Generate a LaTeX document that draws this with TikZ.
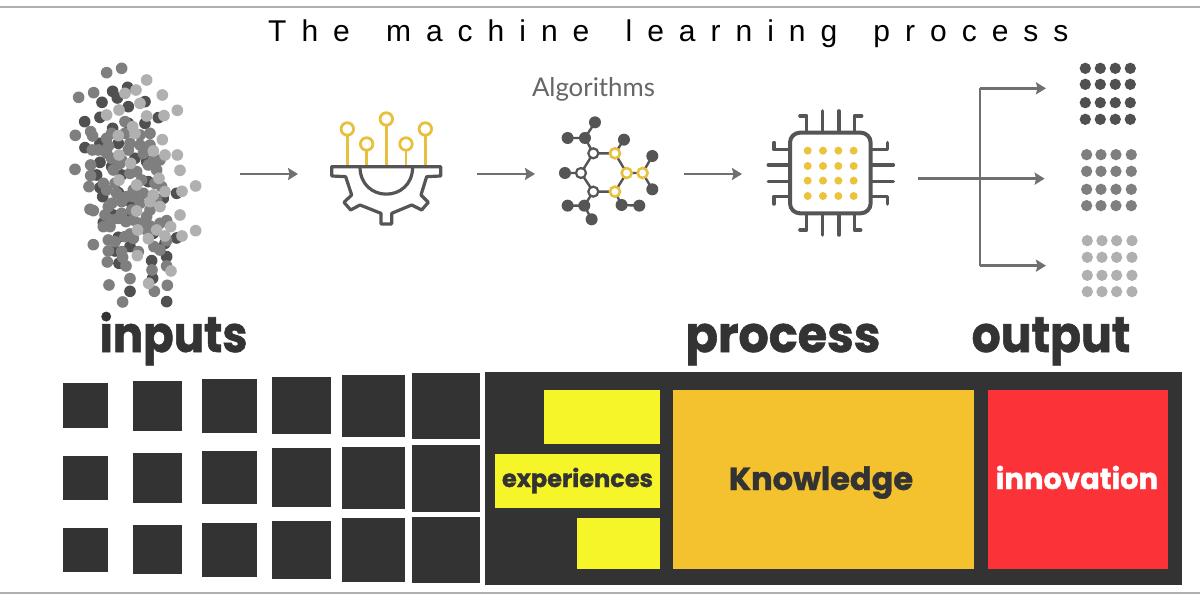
\documentclass[tikz,border=0pt]{standalone}
\usepackage{fontspec}
\usepackage{graphicx}
\usetikzlibrary{arrows.meta}
\setmainfont{Liberation Sans}
\newfontfamily\titlefont[LetterSpace=50,WordSpace=1.55]{Liberation Sans}
\newfontfamily\algofont{Lato}
\newfontfamily\heavyfont[BoldFeatures={FakeBold=1.2}]{Poppins}
\definecolor{ink}{HTML}{333333}
\definecolor{icon}{HTML}{555555}
\definecolor{arrowgrey}{HTML}{707070}
\definecolor{gold}{HTML}{E8C040}
\definecolor{dotgold}{HTML}{EDC33A}
\definecolor{dotdark}{HTML}{505050}
\definecolor{dotmid}{HTML}{7F7F7F}
\definecolor{dotlight}{HTML}{B0B0B0}
\definecolor{yellowbox}{HTML}{F5F52A}
\definecolor{orangebox}{HTML}{F4C22F}
\definecolor{redbox}{HTML}{FB3237}
\tikzset{
  flowarrow/.style={draw=arrowgrey,line width=2.5pt,-{Stealth[length=10pt,width=12pt,inset=1.5pt]}},
  trunk/.style={draw=arrowgrey,line width=2.5pt},
  iconline/.style={draw=icon,line width=3.2pt,line join=round},
  pin/.style={draw=icon,line width=3.6pt,line cap=round,line join=round},
  stem/.style={draw=gold,line width=2.8pt},
  ringgold/.style={circle,draw=gold,fill=white,line width=2.8pt,inner sep=0pt,minimum size=12.5pt},
  netdark/.style={circle,fill=icon,inner sep=0pt,minimum size=12pt},
  netopen/.style={circle,draw=icon,fill=white,line width=2.2pt,inner sep=0pt,minimum size=10pt},
  netgold/.style={circle,draw=gold,fill=white,line width=2.6pt,inner sep=0pt,minimum size=10pt},
  netedge/.style={draw=icon,line width=2.4pt},
  biglabel/.style={inner sep=0pt,anchor=base,text=ink,font=\heavyfont\bfseries\fontsize{50}{50}\selectfont},
  boxlabel/.style={inner sep=0pt,anchor=base,font=\heavyfont\bfseries},
}
\newcommand{\sqbox}[4]{\fill[ink] (#1,#3) rectangle (#2,#4);}
\begin{document}
\begin{tikzpicture}[x=1pt,y=-1pt]
\useasboundingbox (0,0) rectangle (1200,602);
\fill[white] (0,0) rectangle (1200,602);
\fill[dotlight] (0,6) rectangle (1200,8);
\fill[dotlight] (0,592) rectangle (1200,594);

\node[inner sep=0pt,anchor=base west,text=black,font=\titlefont\fontsize{30}{30}\selectfont] (title) at (268,42) {The machine learning process};

% point cloud
\begin{scope}[shift={(50,50)},x=0.3333pt,y=-0.3333pt]
\foreach \a/\b in {156/157,188/124,202/144,233/112,104/215,150/202,105/293,150/337,140/375,150/413,158/440,205/428,188/235,235/220,285/220,325/203,205/280,150/280,255/325,290/335,295/395,340/445,380/430,245/460,240/495,160/518,205/562,195/603,240/590,207/640,305/632,350/620,308/685,240/724,350/755,380/564,345/580,310/550,190/495,235/170,285/155,185/350,215/375}
  \fill[dotdark] (\a,\b) circle[radius=17.5];
\foreach \a/\b in {170/68,215/55,86/142,131/128,76/256,75/358,122/245,128/258,127/300,122/345,122/377,117/410,120/478,130/482,175/470,185/460,170/420,160/400,185/325,190/360,185/510,160/530,180/530,205/505,228/515,175/570,130/584,175/603,172/636,218/622,228/648,240/552,177/705,240/686,218/756,313/724,352/706,306/660,350/648,300/528,350/512,350/572,312/590,265/605,250/420,260/365,295/345,330/330,270/285,235/300,175/288,300/285,250/440,300/480,245/480,225/250,270/255,210/340,320/360,230/440,280/430,270/520,225/560,145/300,170/310,215/330,240/370,275/390,315/400,335/410,195/400,215/455,200/430,270/460,320/450,290/500,250/510,215/490,165/495,330/520,290/540,250/565,330/600,195/575,215/605,185/250,225/215,300/250,310/330,280/310,240/280,170/265}
  \fill[dotmid] (\a,\b) circle[radius=17.5];
\foreach \a/\b in {290/90,258/120,337/135,382/181,270/160,207/180,290/198,342/197,248/230,205/257,337/269,310/303,345/315,382/315,390/361,242/340,207/315,207/390,260/405,327/385,345/425,396/424,437/408,300/455,260/483,390/495,362/530,345/558,396/558,437/542,295/566,262/617,263/540,363/663,296/700,310/435,170/195,255/250,330/470,320/540,225/130}
  \fill[dotlight] (\a,\b) circle[radius=17.5];
\end{scope}

% flow arrows
\coordinate (a1s) at (240,174); \coordinate (a1e) at (298,174);
\coordinate (a2s) at (477,174); \coordinate (a2e) at (535,174);
\coordinate (a3s) at (684,174); \coordinate (a3e) at (742,174);
\draw[flowarrow] (a1s) -- (a1e);
\draw[flowarrow] (a2s) -- (a2e);
\draw[flowarrow] (a3s) -- (a3e);

% gear icon
\begin{scope}[shift={(320,70)},x=0.3333pt,y=-0.3333pt]
\foreach \px/\py in {82/177,140/222,199/147,258/222,316/177} {
  \draw[stem] (\px,290) -- (\px,\py);
  \node[ringgold] at (\px,\py) {};
}
\draw[iconline] (35,290) -- (362,290) -- (362,318) -- (320,320) -- (303,375) -- (325,397) -- (305,420) -- (275,405) -- (215,430) -- (215,462) -- (183,462) -- (183,430) -- (120,405) -- (92,420) -- (72,397) -- (95,375) -- (77,320) -- (35,318) -- cycle;
\draw[iconline] (120,290) .. controls (120,400) and (278,400) .. (278,290);

% network
\foreach \n/\px/\py in {na/825/157,nb/743/204,nc/795/204,nd/912/209,ne/997/258,nf/997/358,ng/735/309,nh/743/407,ni/793/407,nj/815/448,nk/905/405,nl/958/407}
  \coordinate (\n) at (\px,\py);
\foreach \n/\px/\py in {nm/820/250,nn/783/309,no/820/365,np/885/250,nq/920/309,nr/885/365,ns/968/309}
  \coordinate (\n) at (\px,\py);
\draw[netedge] (na)--(nc) (nb)--(nc) (nc)--(nm) (nm)--(nn) (nn)--(no) (nn)--(ng) (no)--(ni) (ni)--(nh) (ni)--(nj) (no)--(nr) (nm)--(np) (np)--(nd) (np)--(nq) (nq)--(nr) (nq)--(ns) (ns)--(ne) (ns)--(nf) (nr)--(nk) (nk)--(nl);
\foreach \n in {na,nb,nc,nd,ne,nf,ng,nh,ni,nj,nk,nl} \node[netdark] at (\n) {};
\foreach \n in {nm,nn,no} \node[netopen] at (\n) {};
\foreach \n in {np,nq,nr,ns} \node[netgold] at (\n) {};
\end{scope}
\node[inner sep=0pt,anchor=base,text=icon!90!white,font=\algofont\fontsize{25.8}{26}\selectfont] (algo) at (593.5,96) {Algorithms};

% chip
\begin{scope}[shift={(750,50)},x=0.3333pt,y=-0.3333pt]
\draw[pin] (170,248)--(170,198)--(150,198) (217,248)--(217,183) (267,248)--(267,183) (313,248)--(313,198)--(335,198);
\draw[pin] (170,490)--(170,540)--(150,540) (217,490)--(217,555) (267,490)--(267,555) (313,490)--(313,540)--(332,540);
\draw[pin] (120,298)--(72,298)--(72,278) (120,345)--(55,345) (120,395)--(55,395) (120,440)--(72,440)--(72,462);
\draw[pin] (362,298)--(413,298)--(413,278) (362,345)--(430,345) (362,395)--(430,395) (362,440)--(413,440)--(413,462);
\draw[draw=icon,line width=4pt,fill=white,rounded corners=10pt] (120,248) rectangle (362,490);
\foreach \px in {173,219,265,311} \foreach \py in {302,348,392,438}
  \fill[dotgold] (\px,\py) circle[radius=12];
\foreach \px in {1006,1051,1096,1141} \foreach \py in {55,103,158,208}
  \fill[dotdark] (\px,\py) circle[radius=17];
\foreach \px in {1010,1053,1098,1144} \foreach \py in {314,364,418,467}
  \fill[dotmid] (\px,\py) circle[radius=17];
\foreach \px in {1012,1056,1100,1146} \foreach \py in {572,622,676,725}
  \fill[dotlight] (\px,\py) circle[radius=17];
% branching connector
\coordinate (bin) at (505,386);
\coordinate (btop) at (690,115);
\coordinate (bbot) at (690,647);
\coordinate (o1) at (888,115);
\coordinate (o2) at (884,386);
\coordinate (o3) at (888,647);
\draw[trunk] (btop) -- (bbot);
\draw[flowarrow] (bin) -- (o2);
\draw[flowarrow] (btop) -- (o1);
\draw[flowarrow] (bbot) -- (o3);
\end{scope}

% headings
\node[biglabel] (inputs) at (173.5,352) {\scalebox{0.90}[1]{inputs}};
\node[biglabel] (process) at (783,352) {\scalebox{0.955}[1]{process}};
\node[biglabel] (output) at (1051,352) {\scalebox{0.913}[1]{output}};

% squares
\sqbox{62.7}{107.7}{383.3}{428.3}\sqbox{62.7}{107.7}{456}{500.3}\sqbox{62.7}{107.7}{527.7}{572.3}
\sqbox{132.7}{181.7}{380.7}{430.7}\sqbox{132.7}{181.7}{453.3}{502.7}\sqbox{132.7}{181.7}{525.3}{574.3}
\sqbox{202.3}{256.7}{378.7}{432.7}\sqbox{202.3}{256.7}{450.7}{504.3}\sqbox{202.3}{256.7}{523}{576.7}
\sqbox{272}{331.3}{376.7}{434.3}\sqbox{272}{331.3}{448.3}{506.7}\sqbox{272}{331.3}{520.7}{579.3}
\sqbox{342.3}{405}{374.7}{437}\sqbox{342.3}{405}{446.7}{509}\sqbox{342.3}{405}{518.3}{581.7}
\sqbox{412}{480}{372.7}{439.3}\sqbox{412}{480}{444.7}{511.7}\sqbox{412}{480}{516.7}{582.7}

% panel
\fill[ink] (484.6,372) rectangle (1181.5,585);
\fill[yellowbox] (544,390) rectangle (660,444);
\fill[yellowbox] (495,454) rectangle (660,508);
\fill[yellowbox] (577,518) rectangle (660,569);
\fill[orangebox] (673,390) rectangle (973.5,569);
\fill[redbox] (988,390) rectangle (1168,569);
\node[boxlabel,text=ink,font=\heavyfont\bfseries\fontsize{24}{24}\selectfont] (exp) at (577.5,487) {experiences};
\node[boxlabel,text=ink,font=\heavyfont\bfseries\fontsize{32}{32}\selectfont] (know) at (821,490) {Knowledge};
\node[boxlabel,text=white,font=\heavyfont\bfseries\fontsize{29}{29}\selectfont] (inno) at (1077,489) {innovation};
\end{tikzpicture}
\end{document}
